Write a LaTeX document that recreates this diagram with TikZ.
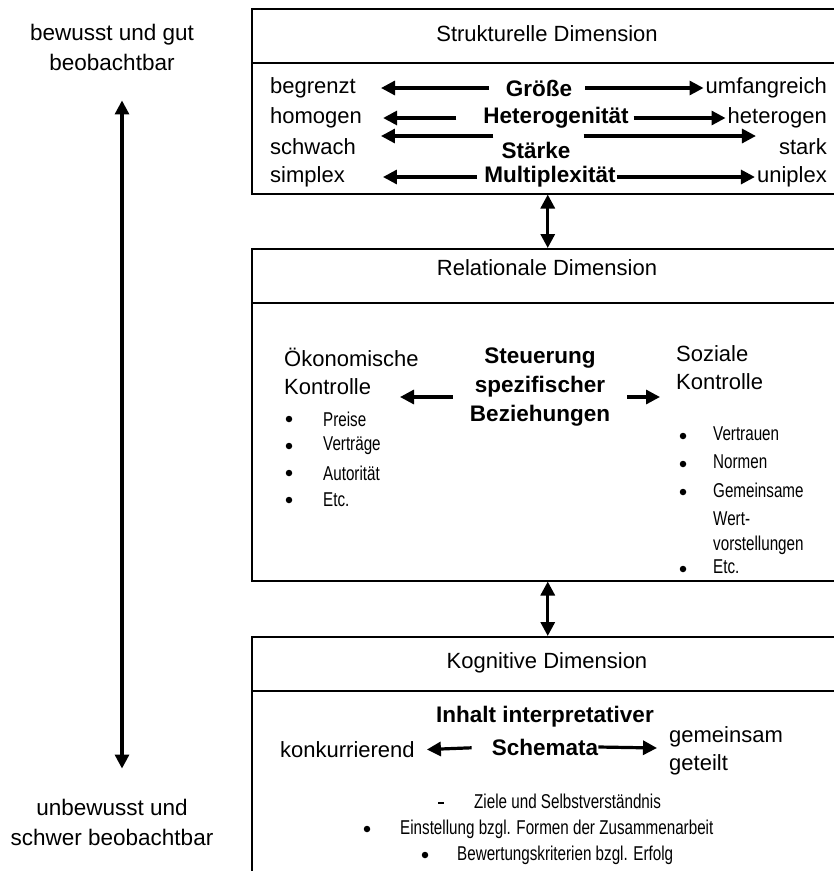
\documentclass[tikz,border=0pt]{standalone}
\usepackage{fontspec}
\setmainfont{Liberation Sans}
\newfontfamily\thinfont[FakeStretch=0.76]{Liberation Sans}
\usetikzlibrary{arrows.meta,positioning}

\tikzset{
  box/.style={draw, line width=1.5pt, anchor=north west, inner sep=0pt, minimum width=592pt},
  txt/.style={inner sep=0pt, font=\fontsize{22}{28}\selectfont},
  key/.style={inner sep=0pt, font=\fontsize{22.5}{29}\selectfont\bfseries},
  itm/.style={inner sep=0pt, anchor=west, font=\thinfont\fontsize{20}{27}\selectfont},
  dot/.style={circle, fill, inner sep=0pt, minimum size=6.5pt},
  arr/.style={line width=3.2pt, -{Triangle[length=14pt,width=14pt]}},
  dbl/.style={line width=3.2pt, {Triangle[length=14pt,width=14pt]}-{Triangle[length=14pt,width=14pt]}}
}

\begin{document}
\begin{tikzpicture}[x=1pt,y=-1pt]
    \path[use as bounding box] (0,0) rectangle (834,871);
    \clip (0,0) rectangle (834,871);

    % left scale
    \node[txt, align=center, font=\fontsize{22.5}{30}\selectfont] (bewusst) at (112,47) {bewusst und gut\\beobachtbar};
    \node[txt, align=center, font=\fontsize{22.5}{30}\selectfont] (unbewusst) at (112,822) {unbewusst und\\schwer beobachtbar};
    \draw[dbl, shorten <=30pt, shorten >=30pt] ([xshift=10pt]bewusst.south) -- ([xshift=10pt]unbewusst.north);

    % boxes
    \node[box, minimum height=185pt] (struk) at (251,8) {};
    \node[box, minimum height=332pt] (rel) at (251,248) {};
    \node[box, minimum height=300pt] (kog) at (251,636) {};
    \foreach \b in {struk,rel,kog}{
      \draw[line width=1.5pt] ([yshift=-55pt]\b.north west) -- ([yshift=-55pt]\b.north east);
    }
    \draw[dbl] (struk.south) -- (rel.north);
    \draw[dbl] (rel.south) -- (kog.north);

    % structural dimension
    \node[txt] (struk-h) at (547,34) {Strukturelle Dimension};
    \node[txt, anchor=west] (begrenzt) at (270,88) {begrenzt};
    \node[txt, anchor=west] (homogen) at (270,118) {homogen};
    \node[txt, anchor=west] (schwach) at (270,147) {schwach};
    \node[txt, anchor=west] (simplex) at (270,177) {simplex};
    \node[txt, anchor=east] (umfang) at (827,88) {umfangreich};
    \node[txt, anchor=east] (hetero) at (827,118) {heterogen};
    \node[txt, anchor=east] (stark) at (827,147) {stark};
    \node[txt, anchor=east] (uniplex) at (827,177) {uniplex};
    \node[key] (groesse) at (539,88) {Größe};
    \node[key] (heterog) at (556,118) {Heterogenität};
    \node[key] (staerke) at (536,150) {Stärke};
    \node[key] (multi) at (550,177) {Multiplexität};
    \draw[arr, shorten <=17pt, shorten >=25pt] (groesse) -- (begrenzt);
    \draw[arr, shorten <=13pt, shorten >=2pt] (groesse) -- (umfang);
    \draw[arr, shorten <=27pt, shorten >=21pt] (heterog) -- (homogen);
    \draw[arr, shorten <=5pt, shorten >=2pt] (heterog) -- (hetero);
    \draw[arr, shorten <=8pt, shorten >=25pt] ([yshift=14pt]staerke.west) -- ([yshift=11pt]schwach.east);
    \draw[arr, shorten <=13pt, shorten >=23pt] ([yshift=14pt]staerke.east) -- ([yshift=11pt]stark.west);
    \draw[arr, shorten <=7pt, shorten >=38pt] (multi) -- (simplex);
    \draw[arr, shorten <=1pt, shorten >=2pt] (multi) -- (uniplex);

    % relational dimension
    \node[txt] (rel-h) at (547,268) {Relationale Dimension};
    \node[txt, anchor=north west, align=left] (oeko) at (284,348) {Ökonomische\\Kontrolle};
    \node[key, align=center] (steuer) at (540,387) {Steuerung\\spezifischer\\Beziehungen};
    \node[txt, anchor=north west, align=left] (sozial) at (676,345) {Soziale\\Kontrolle};
    \coordinate (oeko-tip) at (400,397);
    \coordinate (sozial-tip) at (660,397);
    \draw[arr, shorten <=17pt] ([yshift=-10pt]steuer.west) -- (oeko-tip);
    \draw[arr, shorten <=17pt] ([yshift=-10pt]steuer.east) -- (sozial-tip);
    \foreach \t [count=\i] in {Preise,Verträge,Autorität,Etc.}{
      \node[dot] (od\i) at (289,392+27*\i) {};
      \node[itm] (ot\i) at (323,392+27*\i) {\t};
    }
    \foreach \t/\y [count=\i] in {Vertrauen/436,Normen/464,Gemeinsame/492,Etc./569}{
      \node[dot] (sd\i) at (683,\y) {};
      \node[itm] (st\i) at (713,\y) {\t\vphantom{g}};
    }
    \node[itm] (st-wert) at (713,519) {Wert-};
    \node[itm] (st-vorst) at (713,545) {vorstellungen};

    % cognitive dimension
    \node[txt] (kog-h) at (547,663) {Kognitive Dimension};
    \node[key] (inhalt) at (545,717) {Inhalt interpretativer};
    \node[key] (schemata) at (545,747) {Schemata};
    \node[txt, anchor=west] (konk) at (280,750) {konkurrierend};
    \node[txt, anchor=west, align=left] (gemein) at (669,751) {gemeinsam\\geteilt};
    \coordinate (gemein-tip) at (657,748);
    \draw[arr, shorten <=20pt, shorten >=12pt] (schemata.west) -- (konk.east);
    \draw[arr] (schemata.east) -- (gemein-tip);
    \node[inner sep=0pt] (kd1) at (441,803) {\rule{6pt}{2.5pt}};
    \node[itm] (kt1) at (474,801) {Ziele und Selbstverständnis};
    \node[dot] (kd2) at (367,829) {};
    \node[itm] (kt2) at (400,829) {Einstellung bzgl. Formen der Zusammenarbeit};
    \node[dot] (kd3) at (425,855) {};
    \node[itm] (kt3) at (457,855) {Bewertungskriterien bzgl. Erfolg};
  \end{tikzpicture}
\end{document}
